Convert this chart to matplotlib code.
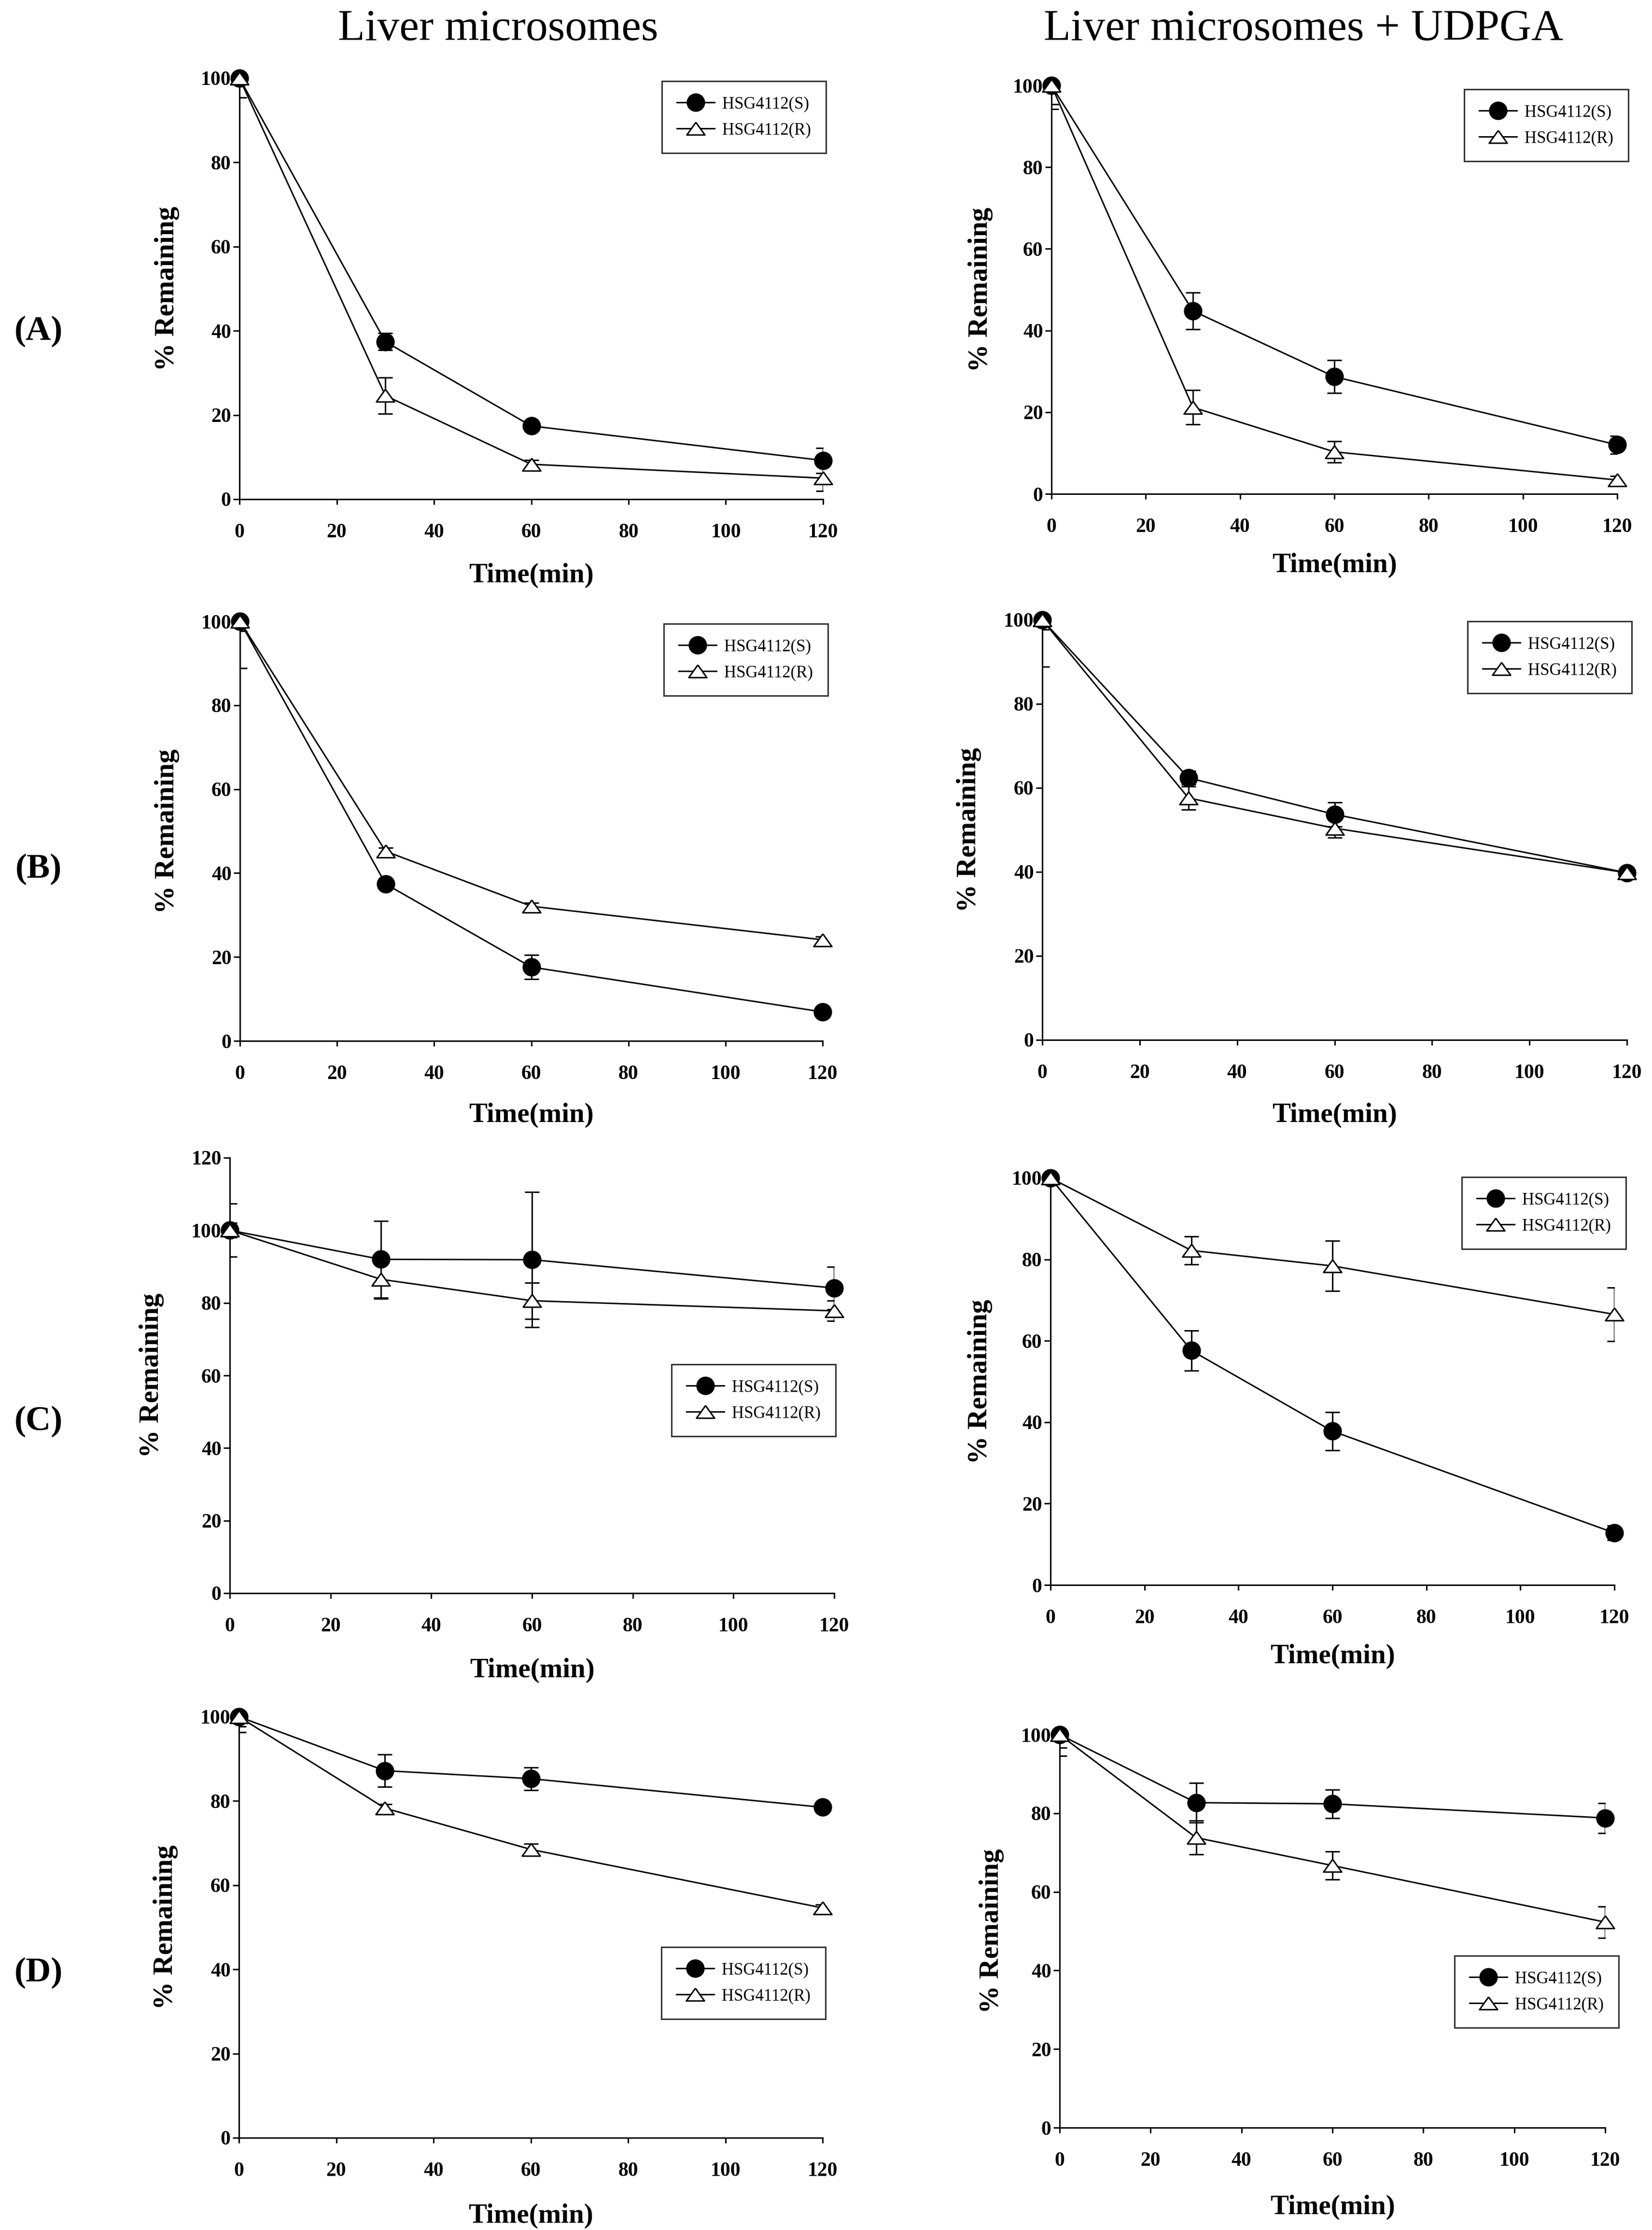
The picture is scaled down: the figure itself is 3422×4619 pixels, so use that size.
import numpy as np
import matplotlib
matplotlib.use('Agg')
import matplotlib.pyplot as plt

plt.rcParams['font.family'] = ['Liberation Serif', 'DejaVu Serif']

# data
time = [0, 30, 60, 120]

A_ms_S = [100, 37.4, 17.4, 9.2]
A_ms_S_err = [0.5, 2.0, 1.0, 3.0]
A_ms_R = [100, 24.6, 8.3, 5.0]
A_ms_R_err = [4.6, 4.3, 1.0, 3.0]
A_ud_S = [100, 44.8, 28.7, 12.0]
A_ud_S_err = [4.6, 4.5, 4.0, 2.2]
A_ud_R = [100, 21.2, 10.3, 3.4]
A_ud_R_err = [5.8, 4.2, 2.6, 1.0]

B_ms_S = [100, 37.4, 17.6, 6.9]
B_ms_S_err = [2.3, 0.8, 2.9, 0.8]
B_ms_R = [100, 45.2, 32.1, 24.1]
B_ms_R_err = [11.2, 0.8, 0.8, 0.8]
B_ud_S = [100, 62.4, 53.7, 39.8]
B_ud_S_err = [2.3, 1.6, 2.9, 0.6]
B_ud_R = [100, 57.6, 50.4, 39.8]
B_ud_R_err = [11.2, 2.8, 2.2, 0.6]

C_ms_S = [100, 92.0, 91.9, 84.1]
C_ms_S_err = [7.3, 10.6, 18.6, 5.9]
C_ms_R = [100, 86.5, 80.6, 77.8]
C_ms_R_err = [2.0, 5.4, 5.0, 2.8]
C_ud_S = [100, 57.6, 37.8, 12.8]
C_ud_S_err = [1.5, 4.9, 4.7, 1.8]
C_ud_R = [100, 82.2, 78.4, 66.5]
C_ud_R_err = [1.5, 3.4, 6.2, 6.6]

D_ms_S = [100, 87.2, 85.3, 78.5]
D_ms_S_err = [2.3, 3.8, 2.7, 0.5]
D_ms_R = [100, 78.3, 68.5, 54.6]
D_ms_R_err = [3.7, 1.0, 1.3, 0.8]
D_ud_S = [100, 82.7, 82.4, 78.8]
D_ud_S_err = [3.3, 5.0, 3.6, 3.8]
D_ud_R = [100, 73.8, 66.7, 52.3]
D_ud_R_err = [5.4, 4.3, 3.6, 4.0]

labels = ['HSG4112(S)', 'HSG4112(R)']
row_labels = ['(A)', '(B)', '(C)', '(D)']
col_titles = ['Liver microsomes', 'Liver microsomes + UDPGA']

panels = [
    (A_ms_S, A_ms_S_err, A_ms_R, A_ms_R_err),
    (A_ud_S, A_ud_S_err, A_ud_R, A_ud_R_err),
    (B_ms_S, B_ms_S_err, B_ms_R, B_ms_R_err),
    (B_ud_S, B_ud_S_err, B_ud_R, B_ud_R_err),
    (C_ms_S, C_ms_S_err, C_ms_R, C_ms_R_err),
    (C_ud_S, C_ud_S_err, C_ud_R, C_ud_R_err),
    (D_ms_S, D_ms_S_err, D_ms_R, D_ms_R_err),
    (D_ud_S, D_ud_S_err, D_ud_R, D_ud_R_err),
]

# layout in pixels: x0, x120, ytop, y0, ymax
W, H = 3422, 4619
boxes = [
    (496, 1705, 162, 1034, 100), (2178, 3350, 177, 1023, 100),
    (497, 1704, 1287, 2156, 100), (2159, 3370, 1284, 2154, 100),
    (476, 1728, 2398, 3300, 120), (2176, 3344, 2440, 3283, 100),
    (495, 1704, 3556, 4428, 100), (2195, 3325, 3593, 4407, 100),
]
ylab_off = [150, 147, 151, 152, 162, 146, 152, 141]
xlab_off = [158, 148, 154, 156, 160, 148, 162, 165]
leg_pos = [(1371, 168), (3033, 185), (1375, 1292), (3040, 1287),
           (1391, 2826), (3028, 2438), (1370, 4033), (3013, 4051)]

tri = [(0, 0.7), (-1, -0.7), (1, -0.7), (0, 0.7)]

fig = plt.figure(figsize=(W / 100, H / 100), dpi=100)

for i, (s, se, r, re) in enumerate(panels):
    x0, x1, yt, yb, ymax = boxes[i]
    ax = fig.add_axes([x0 / W, 1 - yb / H, (x1 - x0) / W, (yb - yt) / H])

    ax.errorbar(time, s, yerr=se, fmt='none', ecolor='k', elinewidth=2.2,
                capsize=11, capthick=2.2, zorder=2)
    ax.errorbar(time, r, yerr=re, fmt='none', ecolor='k', elinewidth=2.2,
                capsize=11, capthick=2.2, zorder=2)
    ax.plot(time, s, '-', color='k', lw=2.2, marker='o', ms=26.5,
            mfc='k', mec='k', label=labels[0], clip_on=False, zorder=3)
    ax.plot(time, r, '-', color='k', lw=2.2, marker=tri, ms=27,
            mfc='white', mec='k', mew=2.2, label=labels[1], clip_on=False, zorder=4)

    ax.set_xlim(0, 120)
    ax.set_ylim(0, ymax)
    ax.set_xticks(range(0, 121, 20))
    ax.set_yticks(range(0, ymax + 1, 20))
    for sp in ['top', 'right']:
        ax.spines[sp].set_visible(False)
    for sp in ['left', 'bottom']:
        ax.spines[sp].set_linewidth(2.2)
    ax.tick_params(axis='x', direction='out', length=8, width=2.2, pad=28, labelsize=30)
    ax.tick_params(axis='y', direction='out', length=9.5, width=2.2, pad=3, labelsize=30)
    for t in ax.get_xticklabels() + ax.get_yticklabels():
        t.set_fontweight('bold')

    ax.set_ylabel('% Remaining', fontsize=41.5, fontweight='bold')
    ax.yaxis.set_label_coords(-ylab_off[i] / (x1 - x0), 0.5)
    ax.yaxis.label.set_verticalalignment('center')
    ax.set_xlabel('Time(min)', fontsize=41, fontweight='bold')
    ax.xaxis.set_label_coords(0.5, -xlab_off[i] / (yb - yt))
    ax.xaxis.label.set_verticalalignment('center')

    lx, ly = leg_pos[i]
    leg = ax.legend(loc='upper left', bbox_to_anchor=(lx / W, 1 - ly / H),
                    bbox_transform=fig.transFigure, borderaxespad=0,
                    fontsize=25, numpoints=1, handlelength=2.25, handletextpad=0.45,
                    borderpad=0.9, labelspacing=0.6, fancybox=False,
                    frameon=True, markerscale=1.0)
    leg.get_frame().set_edgecolor('k')
    leg.get_frame().set_linewidth(2.2)

# column titles
fig.text(1032 / W, 1 - 61 / H, col_titles[0], fontsize=66, ha='center', va='center')
fig.text(2700 / W, 1 - 61 / H, col_titles[1], fontsize=66, ha='center', va='center')

# row labels
row_y = [686, 1800, 2944, 4086]
for lab, y in zip(row_labels, row_y):
    fig.text(80 / W, 1 - y / H, lab, fontsize=52, fontweight='bold', ha='center', va='center')

fig.savefig('out.png', dpi=100)
